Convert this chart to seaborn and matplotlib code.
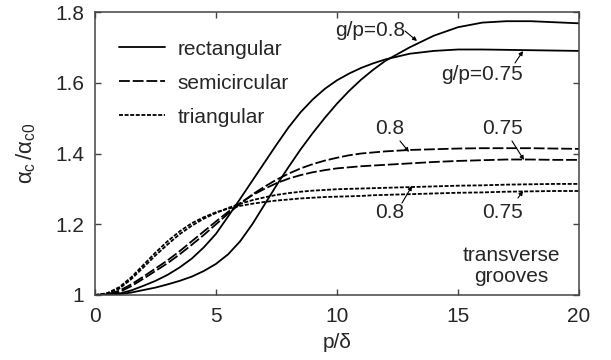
import matplotlib
matplotlib.use("Agg")
import matplotlib.pyplot as plt
import seaborn as sns
import pandas as pd

# ---- data ----
p_delta = [0, 0.5, 1, 1.5, 2, 2.5, 3, 3.5, 4, 4.5, 5, 5.5, 6, 6.5, 7, 7.5, 8, 8.5, 9, 9.5,
           10, 10.5, 11, 11.5, 12, 13, 14, 15, 16, 17, 18, 19, 20]

rect_075 = [1.000, 1.000, 1.004, 1.013, 1.026, 1.040, 1.057, 1.078, 1.103, 1.135, 1.173,
            1.222, 1.272, 1.323, 1.374, 1.425, 1.474, 1.517, 1.553, 1.583, 1.607, 1.626,
            1.642, 1.655, 1.666, 1.682, 1.690, 1.694, 1.694, 1.693, 1.692, 1.691, 1.690]
rect_080 = [1.000, 1.000, 1.002, 1.007, 1.014, 1.021, 1.030, 1.040, 1.052, 1.068, 1.088,
            1.115, 1.152, 1.200, 1.255, 1.310, 1.362, 1.412, 1.458, 1.501, 1.541, 1.577,
            1.609, 1.637, 1.662, 1.700, 1.733, 1.757, 1.770, 1.774, 1.774, 1.771, 1.768]
semi_075 = [1.000, 1.002, 1.012, 1.030, 1.052, 1.075, 1.098, 1.124, 1.152, 1.180, 1.208,
            1.235, 1.260, 1.282, 1.300, 1.316, 1.329, 1.339, 1.347, 1.353, 1.358, 1.361,
            1.364, 1.366, 1.368, 1.372, 1.376, 1.379, 1.381, 1.383, 1.383, 1.382, 1.382]
semi_080 = [1.000, 1.001, 1.008, 1.025, 1.046, 1.068, 1.090, 1.115, 1.142, 1.170, 1.200,
            1.230, 1.258, 1.284, 1.306, 1.326, 1.343, 1.358, 1.370, 1.380, 1.388, 1.395,
            1.400, 1.403, 1.406, 1.410, 1.412, 1.414, 1.415, 1.415, 1.415, 1.414, 1.413]
tri_075 = [1.000, 1.005, 1.022, 1.050, 1.085, 1.120, 1.152, 1.180, 1.203, 1.220, 1.234,
           1.244, 1.252, 1.258, 1.263, 1.267, 1.270, 1.273, 1.275, 1.277, 1.278, 1.279,
           1.280, 1.282, 1.283, 1.285, 1.287, 1.289, 1.290, 1.292, 1.293, 1.294, 1.294]
tri_080 = [1.000, 1.004, 1.018, 1.045, 1.078, 1.112, 1.143, 1.172, 1.196, 1.216, 1.232,
           1.246, 1.258, 1.268, 1.276, 1.283, 1.288, 1.292, 1.295, 1.297, 1.299, 1.300,
           1.301, 1.302, 1.303, 1.305, 1.307, 1.309, 1.310, 1.312, 1.313, 1.314, 1.314]

x_ticks = [0, 5, 10, 15, 20]
x_tick_labels = ["0", "5", "10", "15", "20"]
y_ticks = [1.0, 1.2, 1.4, 1.6, 1.8]
y_tick_labels = ["1", "1.2", "1.4", "1.6", "1.8"]

groove_names = ["rectangular", "semicircular", "triangular"]

# ---- build long table ----
rows = []
for name, gp, vals in [("rectangular", "0.75", rect_075), ("rectangular", "0.8", rect_080),
                       ("semicircular", "0.75", semi_075), ("semicircular", "0.8", semi_080),
                       ("triangular", "0.75", tri_075), ("triangular", "0.8", tri_080)]:
    for xv, yv in zip(p_delta, vals):
        rows.append({"p": xv, "alpha": yv, "shape": name, "gp": gp})
df = pd.DataFrame(rows)

sns.set_style("ticks")
plt.rcParams["font.family"] = ["Liberation Sans", "DejaVu Sans"]
plt.rcParams["mathtext.fontset"] = "custom"
plt.rcParams["mathtext.rm"] = "Liberation Sans"
plt.rcParams["mathtext.it"] = "Liberation Sans"

fig = plt.figure(figsize=(6.11, 3.60), dpi=100)
ax = fig.add_axes([95 / 611, 65 / 360, (579 - 95) / 611, (295 - 12) / 360])

dash_map = {"rectangular": "", "semicircular": (6, 1.6), "triangular": (2.2, 0.9)}
sns.lineplot(data=df, x="p", y="alpha", hue="shape", style="shape", units="gp",
             estimator=None, palette=["black"] * 3, dashes=dash_map,
             hue_order=groove_names, style_order=groove_names,
             linewidth=1.3, ax=ax, legend=True)

ax.set_xlim(0, 20)
ax.set_ylim(1.0, 1.8)
ax.set_xticks(x_ticks)
ax.set_xticklabels(x_tick_labels)
ax.set_yticks(y_ticks)
ax.set_yticklabels(y_tick_labels)
ax.tick_params(direction="in", length=4, width=1, color="#444444", labelsize=15,
               top=True, right=True)
ax.tick_params(axis="x", pad=9)
ax.tick_params(axis="y", pad=8)
for s in ax.spines.values():
    s.set_color("#444444")
    s.set_linewidth(1.1)

ax.set_xlabel("p/δ", fontsize=15)
ax.xaxis.set_label_coords(0.5, -0.135)
ax.set_ylabel(r"$\alpha_{\rm c}\,/\alpha_{\rm c0}$", fontsize=16)
ax.yaxis.set_label_coords(-0.118, 0.5)

leg = ax.legend(loc="upper left", bbox_to_anchor=(0.033, 0.932), frameon=False,
                fontsize=15, handlelength=2.2, handletextpad=0.6, labelspacing=0.72,
                borderaxespad=0)
for h in leg.get_lines():
    h.set_linewidth(1.3)

def px2d(px, py):
    return ((px - 95) / 24.2, 1 + (295 - py) / 353.75)

arrow = dict(arrowstyle="-|>", color="black", lw=0.8, mutation_scale=6, shrinkA=0, shrinkB=0)

ann = [
    ("g/p=0.8", (370, 30), (405, 31), (417, 41)),
    ("g/p=0.75", (482, 75), (515, 63), (523, 51)),
    ("0.8", (390, 128), (400, 141), (409, 152)),
    ("0.75", (502, 128), (512, 141), (524, 160)),
    ("0.8", (390, 212), (402, 203), (412, 186)),
    ("0.75", (502, 212), (518, 198), (523, 191)),
]
for txt, tpos, a0, a1 in ann:
    ax.text(*px2d(*tpos), txt, fontsize=15, ha="center", va="center")
    ax.annotate("", xy=px2d(*a1), xytext=px2d(*a0), arrowprops=arrow)

ax.text(*px2d(511, 266), "transverse\ngrooves", fontsize=15, ha="center", va="center",
        linespacing=1.1)

fig.savefig("out.png", dpi=100)
